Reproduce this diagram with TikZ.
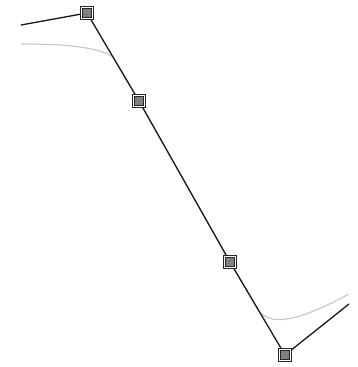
\documentclass[tikz,border=0pt]{standalone}
\usetikzlibrary{positioning,backgrounds}
\definecolor{CtrlGrey}{HTML}{808080}
\definecolor{CurveGrey}{HTML}{C8C8C8}
\tikzset{
  ctrl/.style={rectangle, draw=black!85, line width=1.2pt, double=white,
    double distance=1.3pt, fill=CtrlGrey, inner sep=0pt, minimum size=11pt},
  poly/.style={draw=black!90, line width=1.3pt},
  spline/.style={draw=CurveGrey, line width=1.2pt}
}

\begin{document}
\begin{tikzpicture}[x=1pt,y=-1pt]
  \useasboundingbox (0,0) rectangle (357,367);
  % control points
  \coordinate (p0) at (21,25);
  \coordinate (p5) at (349,304);
  \node[ctrl] (p1) at (87,13) {};
  \node[ctrl] (p2) at (139,101) {};
  \node[ctrl] (p3) at (230,262) {};
  \node[ctrl] (p4) at (285,355) {};
  % approximating curve and control polygon, behind the markers
  \begin{scope}[on background layer]
    \draw[spline] (21,44) .. controls (60,44) and (96,46) .. (113,57)
      -- (p2.center) -- (p3.center) -- (259,311)
      .. controls (269,324) and (292,325) .. (349,294);
    \draw[poly] (p0) -- (p1.center) -- (p2.center) -- (p3.center) -- (p4.center) -- (p5);
  \end{scope}
\end{tikzpicture}
\end{document}
